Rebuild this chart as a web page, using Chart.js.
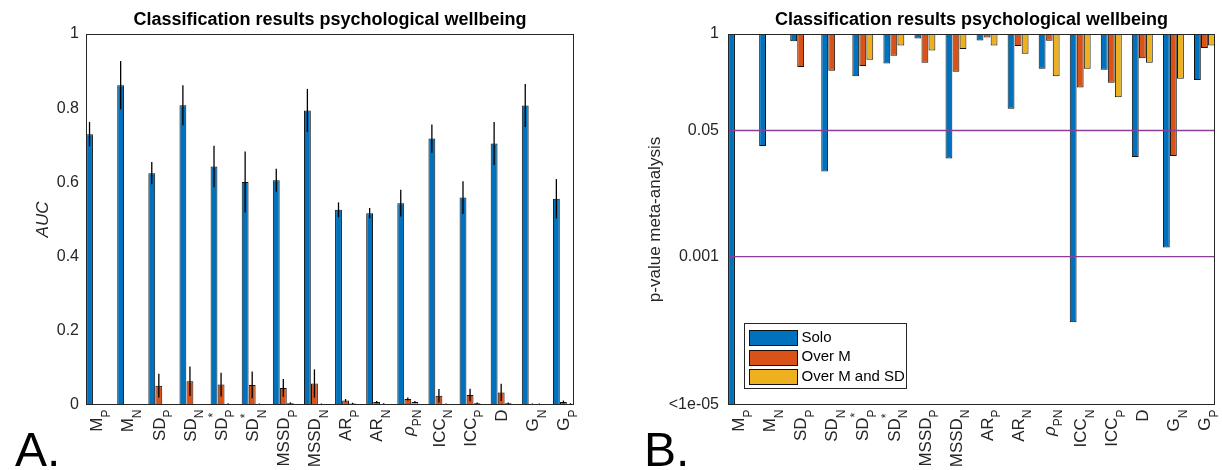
<!DOCTYPE html>
<html>
<head>
<meta charset="utf-8">
<script src="https://cdn.jsdelivr.net/npm/chart.js@4.4.1/dist/chart.umd.min.js"></script>
<style>
  html, body { margin: 0; padding: 0; background: #fff; }
  #wrap { position: relative; width: 1222px; height: 470px; overflow: hidden; }
  .panel { position: absolute; top: 0; width: 611px; height: 470px; }
  .tag { position: absolute; top: 426px; font: 48px "Liberation Sans", Arial, sans-serif; line-height: 48px; color: #000; }
</style>
</head>
<body>
<div id="wrap">
  <div class="panel" style="left:0"><canvas id="chartA"></canvas></div>
  <div class="panel" style="left:611px"><canvas id="chartB"></canvas></div>
  <div class="tag" style="left:15px">A.</div>
  <div class="tag" style="left:644px">B.</div>
</div>
<script>
const FONT = '"Liberation Sans", Arial, Helvetica, sans-serif'
const TITLE = 'Classification results psychological wellbeing'

// "base^sup_sub" -> drawn with super/subscripts
const categories = ['M_P', 'M_N', 'SD_P', 'SD_N', 'SD^*_P', 'SD^*_N', 'MSSD_P', 'MSSD_N',
  'AR_P', 'AR_N', 'ρ_PN', 'ICC_N', 'ICC_P', 'D', 'G_N', 'G_P']
const seriesNames = ['Solo', 'Over M', 'Over M and SD']
const seriesColors = ['#0072BD', '#D95319', '#EDB120']

// panel A: AUC with error bars
const aucSolo = [0.730, 0.862, 0.625, 0.808, 0.643, 0.601, 0.606, 0.794, 0.526, 0.517, 0.544, 0.718, 0.559, 0.705, 0.807, 0.556]
const aucSoloErr = [0.033, 0.065, 0.030, 0.054, 0.056, 0.082, 0.031, 0.058, 0.020, 0.014, 0.036, 0.038, 0.044, 0.058, 0.058, 0.053]
const aucOverM = [null, null, 0.052, 0.064, 0.055, 0.054, 0.046, 0.058, 0.012, 0.008, 0.016, 0.025, 0.027, 0.034, 0.002, 0.008]
const aucOverMErr = [null, null, 0.032, 0.040, 0.032, 0.036, 0.024, 0.038, 0.004, 0.003, 0.004, 0.018, 0.017, 0.023, 0.002, 0.004]
const aucOverMSD = [null, null, null, null, 0.003, 0.002, 0.005, 0.002, 0.004, 0.003, 0.008, 0.002, 0.005, 0.005, 0.002, 0.003]
const aucOverMSDErr = [null, null, null, null, 0.002, 0.002, 0.002, 0.002, 0.002, 0.002, 0.003, 0.002, 0.002, 0.002, 0.002, 0.002]
const aucTicks = [0, 0.2, 0.4, 0.6, 0.8, 1]
const aucTickLabels = ['0', '0.2', '0.4', '0.6', '0.8', '1']

// panel B: p-values (bars hang from 1 down to p)
const pSolo = [1e-5, 0.031, 0.80, 0.014, 0.27, 0.40, 0.87, 0.021, 0.82, 0.098, 0.34, 1.3e-4, 0.33, 0.022, 0.00133, 0.24]
const pOverM = [null, null, 0.36, 0.32, 0.37, 0.51, 0.41, 0.31, 0.90, 0.69, 0.81, 0.19, 0.22, 0.47, 0.0227, 0.65]
const pOverMSD = [null, null, null, null, 0.45, 0.70, 0.60, 0.63, 0.70, 0.54, 0.27, 0.34, 0.14, 0.41, 0.25, 0.70]
const pTicks = [1e-5, 0.001, 0.05, 1]
const pTickLabels = ['<1e-05', '0.001', '0.05', '1']
const pThresholds = [0.05, 0.001]

Chart.defaults.font.family = FONT
Chart.defaults.color = '#262626'

const barSet = (i, values, hanging) => ({
  label: seriesNames[i],
  data: values.map((v, k) => ({ x: k + 1, y: v == null ? null : (hanging ? [v, 1] : v) })),
  backgroundColor: seriesColors[i],
  borderColor: '#111',
  borderWidth: 1,
  borderSkipped: hanging ? false : 'start',
  categoryPercentage: 0.68,
  barPercentage: 0.97
})

const xLabelPlugin = {
  id: 'xLabels',
  afterDraw(chart) {
    const ctx = chart.ctx
    const xs = chart.scales.x
    const top = chart.chartArea.bottom + 4.5
    categories.forEach((lab, i) => {
      const m = lab.match(/^([^_^]+)(?:\^(.))?(?:_(.+))?$/)
      const base = m[1], sup = m[2], sub = m[3]
      const baseFont = (base === 'ρ' ? 'italic ' : '') + '17px ' + FONT
      const smallFont = '12px ' + FONT
      ctx.save()
      ctx.translate(xs.getPixelForValue(i + 1) + 1, top)
      ctx.rotate(-Math.PI / 2)
      ctx.fillStyle = '#262626'
      ctx.textBaseline = 'middle'
      ctx.textAlign = 'left'
      ctx.font = baseFont
      const bw = ctx.measureText(base).width
      ctx.font = smallFont
      const sw = Math.max(sub ? ctx.measureText(sub).width : 0, sup ? ctx.measureText(sup).width : 0)
      ctx.font = baseFont
      ctx.fillText(base, -(bw + sw), 0)
      ctx.font = smallFont
      if (sub) ctx.fillText(sub, -sw, 9)
      if (sup) ctx.fillText(sup, -sw, -8)
      ctx.restore()
    })
  }
}

const boxPlugin = {
  id: 'axesBox',
  afterDraw(chart) {
    const { ctx, chartArea: a } = chart
    ctx.save()
    ctx.strokeStyle = '#262626'
    ctx.lineWidth = 1
    ctx.strokeRect(Math.round(a.left) + 0.5, Math.round(a.top) + 0.5,
      Math.round(a.right - a.left) - 1, Math.round(a.bottom - a.top) - 1)
    ctx.restore()
  }
}

const errorBarPlugin = {
  id: 'errorBars',
  afterDatasetsDraw(chart, args, opts) {
    const { ctx, chartArea: a } = chart
    const ys = chart.scales.y
    ctx.save()
    ctx.beginPath()
    ctx.rect(a.left, a.top, a.right - a.left, a.bottom - a.top)
    ctx.clip()
    ctx.strokeStyle = '#000'
    ctx.lineWidth = 1.3
    opts.errors.forEach((errs, d) => {
      const points = chart.data.datasets[d].data
      chart.getDatasetMeta(d).data.forEach((bar, i) => {
        const v = points[i].y, e = errs[i]
        if (v == null || e == null) return
        ctx.beginPath()
        ctx.moveTo(bar.x, ys.getPixelForValue(v - e))
        ctx.lineTo(bar.x, ys.getPixelForValue(v + e))
        ctx.stroke()
      })
    })
    ctx.restore()
  }
}

const refLinePlugin = {
  id: 'refLines',
  afterDatasetsDraw(chart) {
    const { ctx, chartArea: a } = chart
    const ys = chart.scales.y
    ctx.save()
    ctx.strokeStyle = '#8B3D9A'
    ctx.lineWidth = 1.4
    pThresholds.forEach(t => {
      const y = ys.getPixelForValue(t)
      ctx.beginPath()
      ctx.moveTo(a.left, y)
      ctx.lineTo(a.right, y)
      ctx.stroke()
    })
    ctx.restore()
  }
}

const boxLegendPlugin = {
  id: 'boxLegend',
  afterDraw(chart) {
    const { ctx, chartArea: a } = chart
    const x0 = Math.round(a.left) + 16.5, y0 = Math.round(a.bottom) - 81.5
    ctx.save()
    ctx.fillStyle = '#fff'
    ctx.fillRect(x0, y0, 162, 65)
    ctx.strokeStyle = '#262626'
    ctx.lineWidth = 1
    ctx.strokeRect(x0, y0, 162, 65)
    ctx.font = '15px ' + FONT
    ctx.textBaseline = 'middle'
    ctx.textAlign = 'left'
    chart.data.datasets.forEach((ds, i) => {
      const cy = y0 + 14 + i * 19.7
      ctx.fillStyle = ds.backgroundColor
      ctx.fillRect(x0 + 5, Math.round(cy - 7.5), 48, 15)
      ctx.strokeStyle = '#111'
      ctx.strokeRect(x0 + 5, Math.round(cy - 7.5) + 0.5, 48, 15)
      ctx.fillStyle = '#000'
      ctx.fillText(ds.label, x0 + 57, cy)
    })
    ctx.restore()
  }
}

const xAxis = {
  type: 'linear',
  min: 0.66,
  max: 16.34,
  offset: false,
  afterBuildTicks: s => { s.ticks = categories.map((c, i) => ({ value: i + 1 })) },
  afterFit: s => { s.height = 65 },
  ticks: { display: false },
  grid: { display: false, drawTicks: false },
  border: { display: false }
}

const titleOpts = {
  display: true,
  text: TITLE,
  fullSize: false,
  color: '#000',
  font: { size: 18, weight: 'bold', lineHeight: '20px' },
  padding: { top: 10, bottom: 4 }
}

new Chart(document.getElementById('chartA'), {
  type: 'bar',
  data: {
    datasets: [
      barSet(0, aucSolo, false),
      barSet(1, aucOverM, false),
      barSet(2, aucOverMSD, false)
    ]
  },
  options: {
    animation: false,
    responsive: true,
    maintainAspectRatio: false,
    layout: { padding: { left: 0, right: 37, top: 0, bottom: 0 } },
    scales: {
      x: xAxis,
      y: {
        type: 'linear',
        min: 0,
        max: 1,
        afterBuildTicks: s => { s.ticks = aucTicks.map(v => ({ value: v })) },
        afterFit: s => { s.width = 86 },
        ticks: {
          padding: 7,
          font: { size: 16 },
          callback: v => aucTickLabels[aucTicks.indexOf(v)]
        },
        grid: { display: false, drawTicks: false },
        border: { display: false },
        title: {
          display: true,
          text: 'AUC',
          font: { size: 17, style: 'italic' },
          padding: { top: 33, bottom: 0 }
        }
      }
    },
    plugins: {
      legend: { display: false },
      tooltip: { enabled: false },
      title: titleOpts,
      errorBars: { errors: [aucSoloErr, aucOverMErr, aucOverMSDErr] }
    }
  },
  plugins: [errorBarPlugin, boxPlugin, xLabelPlugin]
})

new Chart(document.getElementById('chartB'), {
  type: 'bar',
  data: {
    datasets: [
      barSet(0, pSolo, true),
      barSet(1, pOverM, true),
      barSet(2, pOverMSD, true)
    ]
  },
  options: {
    animation: false,
    responsive: true,
    maintainAspectRatio: false,
    layout: { padding: { left: 0, right: 7, top: 0, bottom: 0 } },
    scales: {
      x: xAxis,
      y: {
        type: 'logarithmic',
        min: 1e-5,
        max: 1,
        beginAtZero: false,
        afterBuildTicks: s => { s.ticks = pTicks.map(v => ({ value: v })) },
        afterFit: s => { s.width = 117 },
        ticks: {
          padding: 9,
          font: { size: 16 },
          callback: v => pTickLabels[pTicks.indexOf(v)]
        },
        grid: { display: false, drawTicks: false },
        border: { display: false },
        title: {
          display: true,
          text: 'p-value meta-analysis',
          font: { size: 17 },
          padding: { top: 34, bottom: 0 }
        }
      }
    },
    plugins: {
      legend: { display: false },
      tooltip: { enabled: false },
      title: titleOpts
    }
  },
  plugins: [refLinePlugin, boxPlugin, boxLegendPlugin, xLabelPlugin]
})
</script>
</body>
</html>
